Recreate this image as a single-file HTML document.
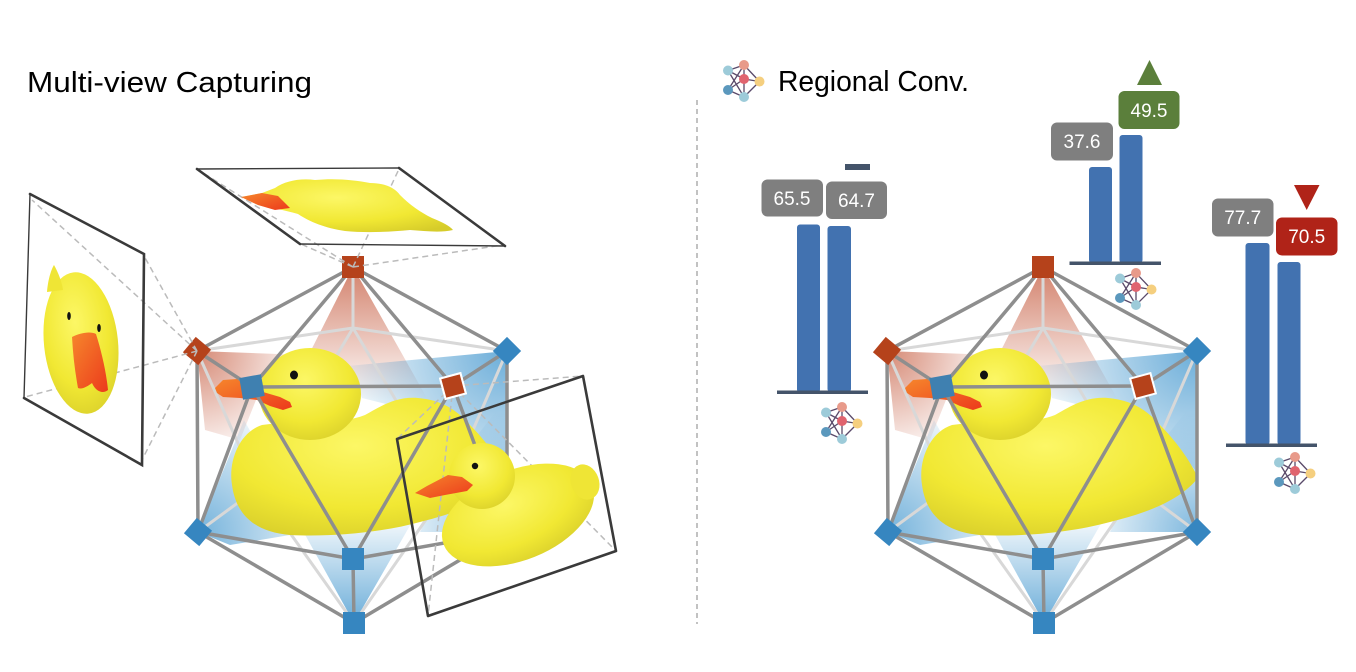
<!DOCTYPE html>
<html><head><meta charset="utf-8">
<style>
html,body{margin:0;padding:0;background:#fff;}
svg{display:block;}
</style></head>
<body>
<svg width="1356" height="672" viewBox="0 0 1356 672" xmlns="http://www.w3.org/2000/svg">
<defs>
 <linearGradient id="gT" gradientUnits="userSpaceOnUse" x1="0" y1="267" x2="0" y2="400">
  <stop offset="0" stop-color="#c4573a" stop-opacity="0.75"/>
  <stop offset="1" stop-color="#c4573a" stop-opacity="0"/>
 </linearGradient>
 <radialGradient id="gLU" gradientUnits="userSpaceOnUse" cx="197" cy="351" r="110">
  <stop offset="0" stop-color="#c4573a" stop-opacity="0.7"/>
  <stop offset="1" stop-color="#c4573a" stop-opacity="0"/>
 </radialGradient>
 <radialGradient id="gRU" gradientUnits="userSpaceOnUse" cx="507" cy="351" r="175">
  <stop offset="0" stop-color="#3a92cc" stop-opacity="0.75"/>
  <stop offset="1" stop-color="#3a92cc" stop-opacity="0"/>
 </radialGradient>
 <radialGradient id="gLL" gradientUnits="userSpaceOnUse" cx="198" cy="532" r="140">
  <stop offset="0" stop-color="#3a92cc" stop-opacity="0.7"/>
  <stop offset="1" stop-color="#3a92cc" stop-opacity="0"/>
 </radialGradient>
 <radialGradient id="gLR" gradientUnits="userSpaceOnUse" cx="507" cy="532" r="120">
  <stop offset="0" stop-color="#3a92cc" stop-opacity="0.65"/>
  <stop offset="1" stop-color="#3a92cc" stop-opacity="0"/>
 </radialGradient>
 <linearGradient id="gB" gradientUnits="userSpaceOnUse" x1="0" y1="623" x2="0" y2="512">
  <stop offset="0" stop-color="#3a92cc" stop-opacity="0.75"/>
  <stop offset="1" stop-color="#3a92cc" stop-opacity="0"/>
 </linearGradient>
 <radialGradient id="yel" cx="0.45" cy="0.35" r="0.75">
  <stop offset="0" stop-color="#fcf766"/>
  <stop offset="0.6" stop-color="#f1e833"/>
  <stop offset="1" stop-color="#d6cc2a"/>
 </radialGradient>
 <linearGradient id="beak" x1="0" y1="0" x2="1" y2="1">
  <stop offset="0" stop-color="#f6862c"/>
  <stop offset="1" stop-color="#ec3a1c"/>
 </linearGradient>

 <g id="net">
  <g stroke="#5a4a6a" stroke-width="1.3" fill="none">
   <line x1="5" y1="10.5" x2="21" y2="5"/>
   <line x1="5" y1="10.5" x2="21" y2="37"/>
   <line x1="5" y1="10.5" x2="21" y2="19"/>
   <line x1="21" y1="5" x2="5" y2="30"/>
   <line x1="21" y1="5" x2="36.5" y2="21.5"/>
   <line x1="21" y1="5" x2="21" y2="19"/>
   <line x1="21" y1="19" x2="36.5" y2="21.5"/>
   <line x1="21" y1="19" x2="21" y2="37"/>
   <line x1="21" y1="19" x2="5" y2="30"/>
   <line x1="5" y1="30" x2="21" y2="37"/>
   <line x1="21" y1="37" x2="36.5" y2="21.5"/>
  </g>
  <circle cx="5" cy="10.5" r="5" fill="#9dcbd9"/>
  <circle cx="21" cy="5" r="5" fill="#e89a8a"/>
  <circle cx="21" cy="19" r="5" fill="#e0646f"/>
  <circle cx="36.5" cy="21.5" r="5" fill="#f5cf7f"/>
  <circle cx="5" cy="30" r="5" fill="#5b98bd"/>
  <circle cx="21" cy="37" r="5" fill="#9dcbd9"/>
 </g>

 <g id="icoBack">
  <polygon points="353,267 286,400 428,400" fill="url(#gT)"/>
  <polygon points="197,351 305,355 258,395 240,440 205,430" fill="url(#gLU)"/>
  <polygon points="507,351 348,366 362,398 470,425 505,470" fill="url(#gRU)"/>
  <polygon points="198,532 244,420 272,470 332,528 230,545" fill="url(#gLL)"/>
  <polygon points="507,532 505,400 450,470 420,532" fill="url(#gLR)"/>
  <polygon points="354,623 298,522 412,522" fill="url(#gB)"/>
  <g stroke="#d8d8d8" stroke-width="3" stroke-linecap="round" fill="none">
   <line x1="353" y1="267" x2="353" y2="328"/>
   <line x1="353" y1="328" x2="197" y2="351"/>
   <line x1="353" y1="328" x2="507" y2="351"/>
   <line x1="353" y1="328" x2="258" y2="488"/>
   <line x1="353" y1="328" x2="448" y2="488"/>
   <line x1="258" y1="488" x2="197" y2="351"/>
   <line x1="258" y1="488" x2="198" y2="532"/>
   <line x1="258" y1="488" x2="448" y2="488"/>
   <line x1="258" y1="488" x2="354" y2="623"/>
   <line x1="448" y1="488" x2="507" y2="351"/>
   <line x1="448" y1="488" x2="507" y2="532"/>
   <line x1="448" y1="488" x2="354" y2="623"/>
  </g>
 </g>

 <g id="icoFront">
  <g stroke="#8e8e8e" stroke-width="3.5" stroke-linecap="round" fill="none">
   <line x1="353" y1="267" x2="197" y2="351"/>
   <line x1="353" y1="267" x2="507" y2="351"/>
   <line x1="353" y1="267" x2="252" y2="387"/>
   <line x1="353" y1="267" x2="453" y2="386"/>
   <line x1="197" y1="351" x2="252" y2="387"/>
   <line x1="507" y1="351" x2="453" y2="386"/>
   <line x1="252" y1="387" x2="453" y2="386"/>
   <line x1="197" y1="351" x2="198" y2="532"/>
   <line x1="507" y1="351" x2="507" y2="532"/>
   <line x1="252" y1="387" x2="198" y2="532"/>
   <line x1="252" y1="387" x2="353" y2="559"/>
   <line x1="453" y1="386" x2="353" y2="559"/>
   <line x1="453" y1="386" x2="507" y2="532"/>
   <line x1="198" y1="532" x2="353" y2="559"/>
   <line x1="353" y1="559" x2="507" y2="532"/>
   <line x1="198" y1="532" x2="354" y2="623"/>
   <line x1="353" y1="559" x2="354" y2="623"/>
   <line x1="507" y1="532" x2="354" y2="623"/>
  </g>
 </g>

 <g id="markers">
  <rect x="342" y="256" width="22" height="22" fill="#b5421b"/>
  <rect x="187" y="341" width="20" height="20" fill="#b5421b" transform="rotate(40 197 351)"/>
  <rect x="497" y="341" width="20" height="20" fill="#3686c0" transform="rotate(45 507 351)"/>
  <rect x="241" y="376" width="22" height="22" fill="#3f80b0" transform="rotate(-10 252 387)"/>
  <rect x="442.5" y="375.5" width="21" height="21" fill="#b5421b" stroke="#fff" stroke-width="2" transform="rotate(-15 453 386)"/>
  <rect x="188" y="522" width="20" height="20" fill="#3686c0" transform="rotate(40 198 532)"/>
  <rect x="497" y="522" width="20" height="20" fill="#3686c0" transform="rotate(45 507 532)"/>
  <rect x="342" y="548" width="22" height="22" fill="#3686c0"/>
  <rect x="343" y="612" width="22" height="22" fill="#3686c0"/>
 </g>

 <g id="bigduck">
  <path d="M 262,425 C 240,432 228,460 232,485 C 236,515 255,532 290,535 C 330,537 380,533 420,522 C 460,512 490,500 508,478 C 500,460 485,440 470,425 C 455,408 440,400 418,398 C 395,396 378,408 365,415 C 340,425 300,420 262,425 Z" fill="url(#yel)"/>
  <ellipse cx="310" cy="394" rx="51" ry="46" fill="url(#yel)"/>
  <polygon points="215,388 223,380 237,379 247,383 263,392 280,397 290,402 292,407 283,410 270,406 257,400 240,398 223,397 217,393" fill="url(#beak)"/>
  <ellipse cx="294" cy="375" rx="4" ry="4.5" fill="#111"/>
 </g>
</defs>

<!-- Titles -->
<text x="27" y="92" font-family="Liberation Sans, sans-serif" font-size="29" fill="#000" textLength="285" lengthAdjust="spacingAndGlyphs">Multi-view Capturing</text>
<use href="#net" transform="translate(723,60)"/>
<text x="778" y="91" font-family="Liberation Sans, sans-serif" font-size="29" fill="#000" textLength="191" lengthAdjust="spacingAndGlyphs">Regional Conv.</text>

<!-- Separator -->
<line x1="697" y1="100" x2="697" y2="624" stroke="#999" stroke-width="1.2" stroke-dasharray="5,4"/>

<!-- LEFT ICOSAHEDRON -->
<use href="#icoBack"/>
<use href="#bigduck"/>
<use href="#icoFront"/>
<use href="#markers"/>

<!-- Left frame (front view) -->
<g stroke="#bbb" stroke-width="1.5" stroke-dasharray="6,4" fill="none">
 <line x1="197" y1="351" x2="32" y2="200"/>
 <line x1="197" y1="351" x2="144" y2="256"/>
 <line x1="197" y1="351" x2="142" y2="460"/>
 <line x1="197" y1="351" x2="25" y2="397"/>
</g>
<ellipse cx="81" cy="343" rx="37" ry="71" fill="url(#yel)" transform="rotate(-6 81 343)"/>
<path d="M 47,292 C 48,278 52,268 54,265 C 58,272 62,282 63,290 Z" fill="#efe535"/>
<path d="M 72,337 C 80,333 90,331 96,334 C 101,350 106,370 108,390 C 103,394 96,392 92,383 C 88,386 82,390 78,388 C 75,372 73,355 72,337 Z" fill="url(#beak)"/>
<ellipse cx="69" cy="316" rx="1.8" ry="4" fill="#111"/>
<ellipse cx="99" cy="328" rx="1.8" ry="4" fill="#111"/>
<g stroke="#3a3a3a" fill="none" stroke-linecap="round">
 <line x1="30" y1="194" x2="24" y2="398" stroke-width="1.4"/>
 <polyline points="30,194 144,254 142,465 24,398" stroke-width="2.6"/>
</g>

<!-- Top frame -->
<g stroke="#bbb" stroke-width="1.5" stroke-dasharray="6,4" fill="none">
 <line x1="353" y1="267" x2="200" y2="171"/>
 <line x1="353" y1="267" x2="399" y2="169"/>
 <line x1="353" y1="267" x2="503" y2="245"/>
 <line x1="353" y1="267" x2="301" y2="244"/>
</g>
<path d="M 242,197 L 262,193 L 275,188 C 285,181 300,178 315,180 C 335,178 355,180 370,183 C 385,183 395,188 400,195 C 410,205 420,212 432,218 C 442,222 450,226 453,230 C 440,233 425,231 410,230 C 390,232 365,233 345,231 C 325,228 310,222 298,214 C 285,210 270,208 258,205 Z" fill="url(#yel)"/>
<path d="M 241,197 L 262,193 L 278,196 L 290,208 L 275,210 L 258,205 Z" fill="url(#beak)"/>
<g stroke="#3a3a3a" fill="none" stroke-linecap="round">
 <line x1="197" y1="169" x2="399" y2="168" stroke-width="1.4"/>
 <line x1="300" y1="244" x2="505" y2="246" stroke-width="1.4"/>
 <line x1="197" y1="169" x2="300" y2="244" stroke-width="2.6"/>
 <line x1="399" y1="168" x2="505" y2="246" stroke-width="2.6"/>
</g>

<!-- Right-side frame with second duck -->
<g stroke="#bbb" stroke-width="1.5" stroke-dasharray="6,4" fill="none">
 <line x1="453" y1="386" x2="397" y2="439"/>
 <line x1="453" y1="386" x2="583" y2="376"/>
 <line x1="453" y1="386" x2="616" y2="551"/>
 <line x1="453" y1="386" x2="428" y2="616"/>
</g>
<rect x="442.5" y="375.5" width="21" height="21" fill="#b5421b" stroke="#fff" stroke-width="2" transform="rotate(-15 453 386)"/>
<ellipse cx="518" cy="515" rx="80" ry="45" fill="url(#yel)" transform="rotate(-22 518 515)"/>
<ellipse cx="585" cy="482" rx="14" ry="18" fill="#efe535" transform="rotate(-20 585 482)"/>
<circle cx="482" cy="476" r="33" fill="url(#yel)"/>
<polygon points="415,493 427,486 448,475 462,477 473,485 467,491 445,495 430,498" fill="url(#beak)"/>
<circle cx="475" cy="466" r="3.2" fill="#111"/>
<polygon points="397,439 583,376 616,551 428,616" fill="none" stroke="#3a3a3a" stroke-width="2.6" stroke-linejoin="round"/>

<!-- RIGHT ICOSAHEDRON -->
<g transform="translate(690,0)">
 <use href="#icoBack"/>
 <use href="#bigduck"/>
 <use href="#icoFront"/>
 <use href="#markers"/>
</g>

<!-- Charts -->
<g font-family="Liberation Sans, sans-serif" font-size="19" fill="#fff" text-anchor="middle">
 <!-- left chart -->
 <rect x="845" y="164" width="25" height="6" fill="#44546a"/>
 <rect x="761.5" y="179.5" width="61.5" height="37" rx="6" fill="#7f7f7f"/>
 <text x="792" y="205">65.5</text>
 <rect x="826" y="181.5" width="61" height="37.5" rx="6" fill="#7f7f7f"/>
 <text x="856.5" y="207">64.7</text>
 <rect x="797" y="224.5" width="23" height="168" rx="3" fill="#4272b0"/>
 <rect x="827.5" y="226" width="23.5" height="166" rx="3" fill="#4272b0"/>
 <rect x="777" y="390.5" width="91" height="3.5" fill="#44546a"/>

 <!-- middle chart -->
 <polygon points="1137,85 1162,85 1149.5,60" fill="#5b7f3b"/>
 <rect x="1118.5" y="91" width="61" height="38" rx="6" fill="#5b7f3b"/>
 <text x="1149" y="117">49.5</text>
 <rect x="1051" y="122.5" width="62" height="38" rx="6" fill="#7f7f7f"/>
 <text x="1082" y="148">37.6</text>
 <rect x="1089" y="167" width="23" height="96" rx="3" fill="#4272b0"/>
 <rect x="1119.5" y="135" width="23" height="128" rx="3" fill="#4272b0"/>
 <rect x="1069.5" y="261.5" width="91.5" height="3.5" fill="#44546a"/>

 <!-- right chart -->
 <polygon points="1294,185 1319.5,185 1306.7,210" fill="#b02318"/>
 <rect x="1212" y="198.5" width="61.5" height="38" rx="6" fill="#7f7f7f"/>
 <text x="1242.7" y="224">77.7</text>
 <rect x="1276" y="217.5" width="61.5" height="38" rx="6" fill="#b02318"/>
 <text x="1306.7" y="243">70.5</text>
 <rect x="1245.5" y="243" width="24" height="202" rx="3" fill="#4272b0"/>
 <rect x="1277.5" y="262" width="23" height="183" rx="3" fill="#4272b0"/>
 <rect x="1226" y="443.5" width="91" height="3.5" fill="#44546a"/>
</g>

<use href="#net" transform="translate(821,402)"/>
<use href="#net" transform="translate(1115,268)"/>
<use href="#net" transform="translate(1274,452)"/>

</svg>
</body></html>
